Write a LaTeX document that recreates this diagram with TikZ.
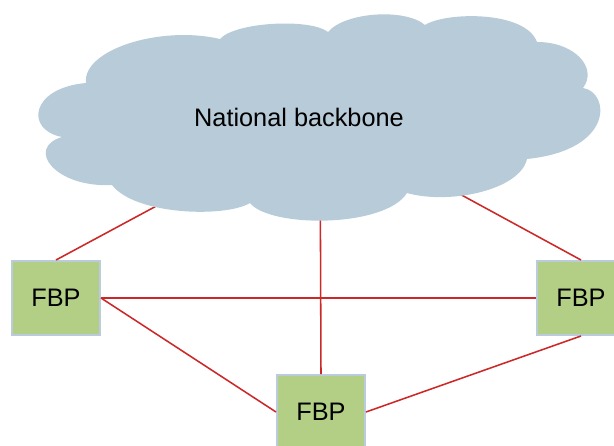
\documentclass[tikz,border=0pt]{standalone}
\usepackage{fontspec}
\setmainfont{Liberation Sans}
\definecolor{cloudblue}{RGB}{184,203,217}
\definecolor{boxgreen}{RGB}{179,207,133}
\definecolor{boxedge}{RGB}{186,203,220}
\definecolor{linkred}{RGB}{204,40,40}
\tikzset{
    box/.style={draw=boxedge, line width=1.4pt, fill=boxgreen, rectangle, minimum width=2.2cm, minimum height=1.85cm, font=\fontsize{18}{21}\selectfont},
    label/.style={font=\fontsize{18}{21}\selectfont},
    link/.style={draw=linkred, line width=1.1pt}
}

\begin{document}
\begin{tikzpicture}[x=0.025cm, y=-0.025cm]
\useasboundingbox (0,0) rectangle (614,446);
\clip (0,0) rectangle (614,446);
\coordinate (nbc) at (320,118);
\node[box] (fbpl) at (56,298) {FBP};
\node[box] (fbpr) at (581,298) {FBP};
\node[box] (fbpb) at (321,412) {FBP};
% links (the cloud covers their inner ends)
\draw[link] (nbc) -- (fbpl.north);
\draw[link] (nbc) -- (fbpr.north);
\draw[link] (nbc) -- (fbpb.north);
\draw[link] (fbpl.east) -- (fbpr.west);
\draw[link] (fbpl.east) -- (fbpb.west);
\draw[link] (fbpb.east) -- (fbpr.south);
% cloud
\fill[cloudblue] (220,39)
  .. controls (235,22) and (310,18) .. (328,32)
  .. controls (345,12) and (405,8) .. (425,25)
  .. controls (445,12) and (525,10) .. (537,42)
  .. controls (575,42) and (598,68) .. (583,88)
  .. controls (610,92) and (615,150) .. (527,159)
  .. controls (520,190) and (450,205) .. (407,193)
  .. controls (385,228) and (270,228) .. (250,203)
  .. controls (225,218) and (135,215) .. (112,185)
  .. controls (55,188) and (25,148) .. (62,137)
  .. controls (25,130) and (30,88) .. (86,83)
  .. controls (82,50) and (160,25) .. cycle;
\node[label] (nb) at (299,117) {National backbone};
\end{tikzpicture}
\end{document}
